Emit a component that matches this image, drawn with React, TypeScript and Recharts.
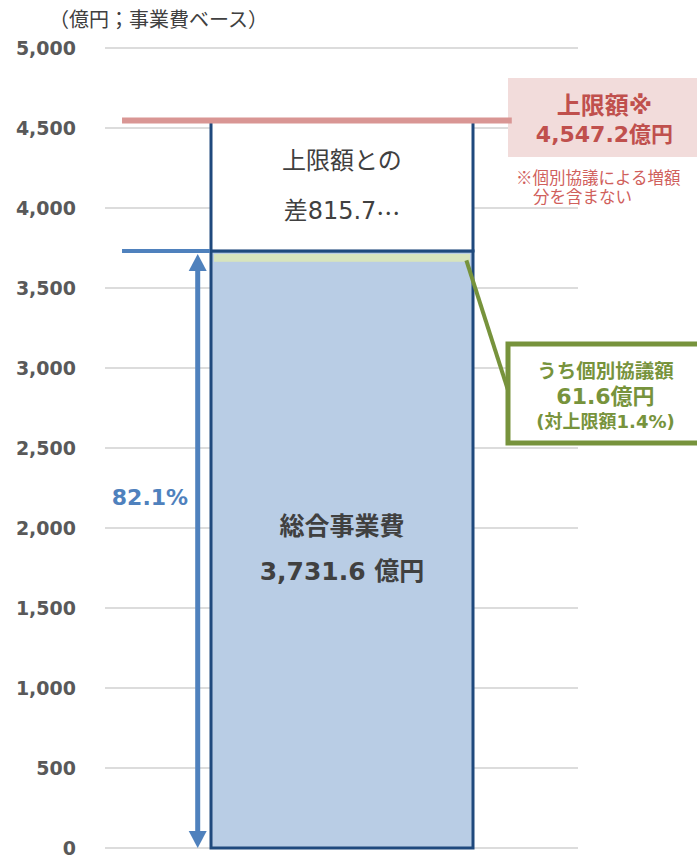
import React from 'react';
import {
  ComposedChart,
  Bar,
  XAxis,
  YAxis,
  CartesianGrid,
  ReferenceLine,
  ReferenceArea,
  ReferenceDot,
  LabelList,
} from 'recharts';

// ---- data ----
const categories = ['事業費'];
const totalCost = [3731.6]; // 総合事業費
const individualAmount = [61.6]; // うち個別協議額
const gapToCap = [815.6]; // 上限額との差
const capAmount = 4547.2; // 上限額
const yTicks = [0, 500, 1000, 1500, 2000, 2500, 3000, 3500, 4000, 4500, 5000];

const titleText = '（億円；事業費ベース）';
const gapLabel = ['上限額との', '差815.7…'];
const totalLabel = ['総合事業費', '3,731.6 億円'];
const capLabel = ['上限額※', '4,547.2億円'];
const capNote = ['※個別協議による増額', '分を含まない'];
const indivLabel = ['うち個別協議額', '61.6億円', '(対上限額1.4%)'];
const ratioLabel = '82.1%';

const data = categories.map((name, i) => ({
  name,
  pos: 50,
  total: totalCost[i],
  individual: individualAmount[i],
  gap: gapToCap[i],
}));

const NUM_FONT = '"DejaVu Sans", "Noto Sans CJK JP", sans-serif';
const JP_FONT = '"Noto Sans CJK JP", "DejaVu Sans", sans-serif';

const NAVY = '#1f497d';
const BLUE = '#4f81bd';
const RED = '#c0504d';
const GREEN = '#77933c';

const YTick = (props: any) => {
  const { y, payload } = props;
  return (
    <text
      x={76}
      y={y}
      textAnchor="end"
      dominantBaseline="central"
      fontFamily={NUM_FONT}
      fontWeight="bold"
      fontSize={19}
      fill="#595959"
    >
      {Number(payload.value).toLocaleString('en-US')}
    </text>
  );
};

const TotalShape = (props: any) => {
  const { x, y, width, height, payload } = props;
  const bandH = (height * payload.individual) / payload.total;
  return (
    <g>
      <rect x={x} y={y} width={width} height={height} fill="#b9cde5" stroke={NAVY} strokeWidth={3} />
      <rect x={x + 3} y={y + 3} width={width - 6} height={Math.max(bandH - 2, 1)} fill="#d7e4bd" />
    </g>
  );
};

const GapShape = (props: any) => {
  const { x, y, width, height } = props;
  return <rect x={x} y={y} width={width} height={height} fill="#ffffff" stroke={NAVY} strokeWidth={3} />;
};

const renderLine = (t: string) => {
  if (t.endsWith('…')) {
    return (
      <>
        {t.slice(0, -1)}
        <tspan fontFamily={JP_FONT}>…</tspan>
      </>
    );
  }
  return t;
};

const TwoLineLabel = (lines: string[], gap: number, font: string, size: number, weight: string) =>
  (props: any) => {
    const { x, y, width, height } = props;
    const cx = x + width / 2;
    const cy = y + height / 2;
    return (
      <g>
        {lines.map((t, i) => (
          <text
            key={i}
            x={cx}
            y={cy + (i - (lines.length - 1) / 2) * gap}
            textAnchor="middle"
            dominantBaseline="central"
            fontFamily={font}
            fontSize={size}
            fontWeight={weight}
            fill="#404040"
          >
            {renderLine(t)}
          </text>
        ))}
      </g>
    );
  };

const ArrowShape = (props: any) => {
  const { x1, y1, x2, y2 } = props;
  const x = x1;
  const top = Math.min(y1, y2) + 3;
  const bottom = Math.max(y1, y2);
  const hw = 9;
  const hh = 17;
  return (
    <g>
      <line x1={x} y1={top + hh - 1} x2={x} y2={bottom - hh + 1} stroke={BLUE} strokeWidth={5} />
      <polygon points={`${x},${top} ${x - hw},${top + hh} ${x + hw},${top + hh}`} fill={BLUE} />
      <polygon points={`${x},${bottom} ${x - hw},${bottom - hh} ${x + hw},${bottom - hh}`} fill={BLUE} />
    </g>
  );
};

const CapBoxLabel = (props: any) => {
  const vb = props.viewBox || {};
  const { x, y, width, height } = vb;
  const cx = x + width / 2;
  const cy = y + height / 2;
  return (
    <g>
      <text x={cx} y={cy - 12} textAnchor="middle" dominantBaseline="central" fontFamily={NUM_FONT} fontWeight="bold" fontSize={24} fill={RED}>
        {capLabel[0]}
      </text>
      <text x={cx} y={cy + 17} textAnchor="middle" dominantBaseline="central" fontFamily={NUM_FONT} fontWeight="bold" fontSize={22} fill={RED}>
        {capLabel[1]}
      </text>
      <text x={x + 8} y={y + height + 20} dominantBaseline="central" fontFamily={JP_FONT} fontSize={16.5} fill="#d0605c">
        {capNote[0]}
      </text>
      <text x={x + 25} y={y + height + 39} dominantBaseline="central" fontFamily={JP_FONT} fontSize={16.5} fill="#d0605c">
        {capNote[1]}
      </text>
    </g>
  );
};

const IndivBoxLabel = (props: any) => {
  const vb = props.viewBox || {};
  const { x, y, width, height } = vb;
  const cx = x + width / 2 + 1;
  const cy = y + height / 2;
  return (
    <g>
      <text x={cx} y={cy - 24} textAnchor="middle" dominantBaseline="central" fontFamily={JP_FONT} fontWeight="bold" fontSize={19.5} fill={GREEN}>
        {indivLabel[0]}
      </text>
      <text x={cx} y={cy + 3} textAnchor="middle" dominantBaseline="central" fontFamily={NUM_FONT} fontWeight="bold" fontSize={22} fill={GREEN}>
        {indivLabel[1]}
      </text>
      <text x={cx} y={cy + 28} textAnchor="middle" dominantBaseline="central" fontFamily={NUM_FONT} fontWeight="bold" fontSize={18} fill={GREEN}>
        {indivLabel[2]}
      </text>
    </g>
  );
};

export default function App() {
  return (
    <div style={{ position: 'absolute', left: 0, top: 0, width: 697, height: 857, background: '#fff' }}>
      <div
        style={{
          position: 'absolute',
          left: 49,
          top: 6,
          fontFamily: JP_FONT,
          fontSize: 20,
          color: '#404040',
          whiteSpace: 'nowrap',
          lineHeight: '26px',
        }}
      >
        {titleText}
      </div>
      <ComposedChart
        width={697}
        height={857}
        data={data}
        margin={{ top: 48, right: 119, bottom: 9, left: 0 }}
        barCategoryGap={0}
      >
        <CartesianGrid vertical={false} xAxisId="cat" stroke="#dcdcdc" strokeWidth={2} />
        <XAxis xAxisId="cat" dataKey="name" type="category" hide />
        <XAxis xAxisId="num" dataKey="pos" type="number" domain={[0, 100]} hide allowDataOverflow />
        <YAxis
          domain={[0, 5000]}
          ticks={yTicks}
          width={105}
          axisLine={false}
          tickLine={false}
          tick={<YTick />}
          interval={0}
        />
        <Bar
          xAxisId="cat"
          dataKey="total"
          stackId="a"
          barSize={262}
          shape={<TotalShape />}
          isAnimationActive={false}
        >
          <LabelList dataKey="total" content={TwoLineLabel(totalLabel, 45, NUM_FONT, 25, 'bold')} />
        </Bar>
        <Bar
          xAxisId="cat"
          dataKey="gap"
          stackId="a"
          barSize={262}
          shape={<GapShape />}
          isAnimationActive={false}
        >
          <LabelList dataKey="gap" content={TwoLineLabel(gapLabel, 50, NUM_FONT, 24, 'normal')} />
        </Bar>

        <ReferenceLine
          xAxisId="num"
          segment={[{ x: 3.6, y: capAmount }, { x: 86, y: capAmount }]}
          stroke="#d99694"
          strokeWidth={6}
          ifOverflow="visible"
        />
        <ReferenceLine
          xAxisId="num"
          segment={[{ x: 3.6, y: totalCost[0] }, { x: 22.2, y: totalCost[0] }]}
          stroke={BLUE}
          strokeWidth={4}
          ifOverflow="visible"
        />
        <ReferenceLine
          xAxisId="num"
          segment={[{ x: 19.6, y: totalCost[0] }, { x: 19.6, y: 0 }]}
          shape={<ArrowShape />}
          ifOverflow="visible"
        />
        <ReferenceLine
          xAxisId="num"
          segment={[{ x: 76.4, y: 3672 }, { x: 85.2, y: 2862 }]}
          stroke={GREEN}
          strokeWidth={4}
          ifOverflow="visible"
        />
        <ReferenceArea
          xAxisId="num"
          x1={85.2}
          x2={126}
          y1={4318}
          y2={4812}
          fill="#f2dcdb"
          fillOpacity={1}
          stroke="none"
          ifOverflow="visible"
          label={<CapBoxLabel />}
        />
        <ReferenceArea
          xAxisId="num"
          x1={85.2}
          x2={126}
          y1={2531}
          y2={3150}
          fill="#ffffff"
          fillOpacity={1}
          stroke={GREEN}
          strokeWidth={5}
          ifOverflow="visible"
          label={<IndivBoxLabel />}
        />
        <ReferenceDot
          xAxisId="num"
          x={9.5}
          y={2194}
          r={0}
          fill="none"
          stroke="none"
          ifOverflow="visible"
          label={{
            value: ratioLabel,
            position: 'center',
            fill: BLUE,
            fontSize: 22,
            fontWeight: 'bold',
            fontFamily: NUM_FONT,
          }}
        />
      </ComposedChart>
    </div>
  );
}
